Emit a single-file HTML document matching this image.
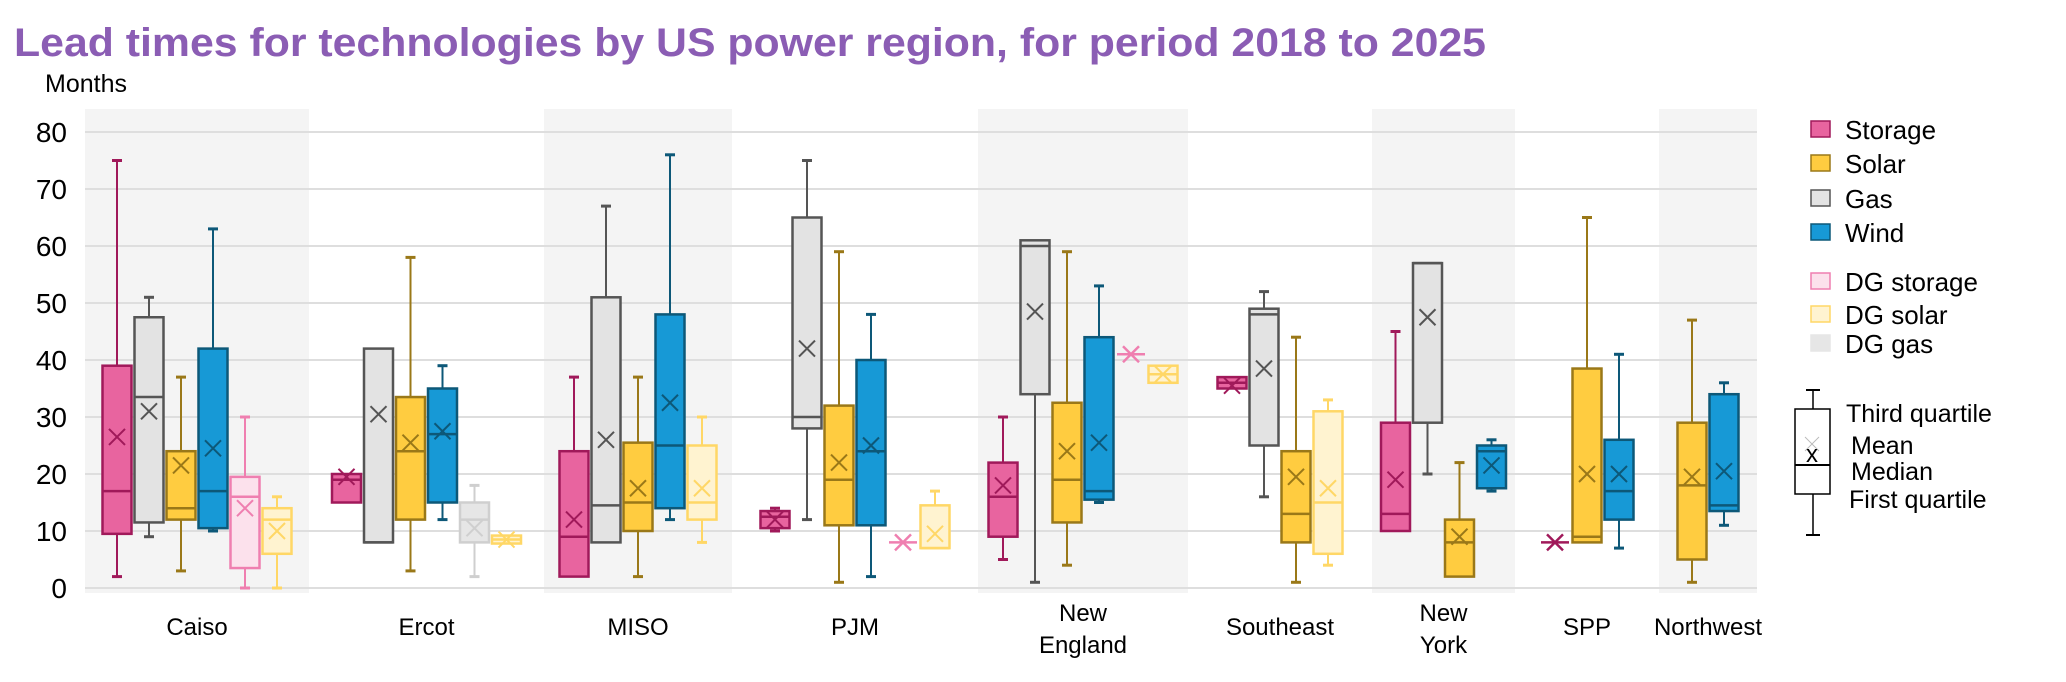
<!DOCTYPE html>
<html><head><meta charset="utf-8">
<style>
body{margin:0;background:#fff;}
svg{display:block;font-family:"Liberation Sans",Arial,sans-serif;}
</style></head>
<body>
<svg id="chart" width="2066" height="682" viewBox="0 0 2066 682" xmlns="http://www.w3.org/2000/svg">
<text x="14" y="56" font-size="40" font-weight="bold" fill="#8b5db4" textLength="1472" lengthAdjust="spacingAndGlyphs">Lead times for technologies by US power region, for period 2018 to 2025</text>
<text x="45" y="92" font-size="25" fill="#000">Months</text>
<g id="bands"></g><g id="grid"></g><g id="ylabels"></g><g id="boxes"></g><g id="xlabels"></g>
<g id="legend"></g>
</svg>
<script>
const regions = ["Caiso","Ercot","MISO","PJM","New England","Southeast","New York","SPP","Northwest"];
const yTicks = [0,10,20,30,40,50,60,70,80];
// each box: [series, min, q1, median, q3, max, mean]
const caisoBoxes = [["storage",2,9.5,17,39,75,26.5],["gas",9,11.5,33.5,47.5,51,31],["solar",3,12,14,24,37,21.5],["wind",10,10.5,17,42,63,24.5],["dgstorage",0,3.5,16,19.5,30,14],["dgsolar",0,6,12,14,16,10]];
const ercotBoxes = [["storage",15,15,19,20,20,19.5],["gas",8,8,8,42,42,30.5],["solar",3,12,24,33.5,58,25.5],["wind",12,15,27,35,39,27.5],["dggas",2,8,12,15,18,10.5],["dgsolar",8,7.8,8.5,9.2,9.2,8.5]];
const misoBoxes = [["storage",2,2,9,24,37,12],["gas",8,8,14.5,51,67,26],["solar",2,10,15,25.5,37,17.5],["wind",12,14,25,48,76,32.5],["dgsolar",8,12,15,25,30,17.5]];
const pjmBoxes = [["storage",10,10.5,12.5,13.5,14,12],["gas",12,28,30,65,75,42],["solar",1,11,19,32,59,22],["wind",2,11,24,40,48,25],["dgstorage",8,8,8,8,8,8],["dgsolar",7,7,7,14.5,17,9.5]];
const neBoxes = [["storage",5,9,16,22,30,18],["gas",1,34,60,61,61,48.5],["solar",4,11.5,19,32.5,59,24],["wind",15,15.5,17,44,53,25.5],["dgstorage",41,41,41,41,41,41],["dgsolar",36,36,37.5,39,39,37.5]];
const seBoxes = [["storage",35,35,36,37,37,35.5],["gas",16,25,48,49,52,38.5],["solar",1,8,13,24,44,19.5],["dgsolar",4,6,15,31,33,17.5]];
const nyBoxes = [["storage",10,10,13,29,45,19],["gas",20,29,57,57,57,47.5],["solar",2,2,8,12,22,9],["wind",17,17.5,24,25,26,21.5]];
const sppBoxes = [["storage",8,8,8,8,8,8],["solar",8,8,9,38.5,65,20],["wind",7,12,17,26,41,20]];
const nwBoxes = [["solar",1,5,18,29,47,19.5],["wind",11,13.5,14.5,34,36,20.5]];
const regionBoxes = [caisoBoxes,ercotBoxes,misoBoxes,pjmBoxes,neBoxes,seBoxes,nyBoxes,sppBoxes,nwBoxes];
const legendLabels = ["Storage","Solar","Gas","Wind","DG storage","DG solar","DG gas"];
const legendKeys = ["storage","solar","gas","wind","dgstorage","dgsolar","dggas"];

// layout
const bandEdges = [85,309,544,732,978,1188,1372,1515,1659,1757];
const styles = {
  storage:{f:"#e8649f",s:"#a0195a"}, solar:{f:"#ffcc40",s:"#9a7818"}, gas:{f:"#e3e3e3",s:"#555555"},
  wind:{f:"#1799d6",s:"#0d5878"}, dgstorage:{f:"#fce1ec",s:"#ef7fb0"}, dgsolar:{f:"#fff3d0",s:"#ffd766"},
  dggas:{f:"#e6e6e6",s:"#cfcfcf"}
};
const NS="http://www.w3.org/2000/svg";
const y = v => 588 - v*5.7;
const STEP=32, BW=29;
function mk(parent,tag,attrs,text){const e=document.createElementNS(NS,tag);for(const k in attrs)e.setAttribute(k,attrs[k]);if(text!==undefined)e.textContent=text;parent.appendChild(e);return e;}
const G=id=>document.getElementById(id);

regions.forEach((r,i)=>{
  if(i%2===0){
    const b=mk(G('bands'),'rect',{x:bandEdges[i],y:109,width:bandEdges[i+1]-bandEdges[i],height:484,fill:"#f4f4f4"});
    
    
  }
});
yTicks.forEach(t=>{
  const l=mk(G('grid'),'line',{x1:85,x2:1757,y1:y(t),y2:y(t),stroke:"#dedede","stroke-width":2});
  
  
  const tx=mk(G('ylabels'),'text',{x:67,y:y(t)+10,"font-size":28,"text-anchor":"end",fill:"#000"},String(t));
  
  
});
function cross(g,cx,cy,r,stroke,w){
  mk(g,'line',{x1:cx-r,y1:cy-r,x2:cx+r,y2:cy+r,stroke:stroke,"stroke-width":w});
  mk(g,'line',{x1:cx-r,y1:cy+r,x2:cx+r,y2:cy-r,stroke:stroke,"stroke-width":w});
}
regionBoxes.forEach((boxes,ri)=>{
  const x0=bandEdges[ri], w=bandEdges[ri+1]-bandEdges[ri];
  const start=x0+(w-boxes.length*STEP)/2+STEP/2;
  boxes.forEach((b,bi)=>{
    const [ser,mn,q1,md,q3,mx,mean]=b;
    const st=styles[ser]; const cx=start+bi*STEP;
    const g=mk(G('boxes'),'g',{});
    
    
    if(q1===q3){
      cross(g,cx,y(mean),8,st.s,2.5);
      mk(g,'line',{x1:cx-14,x2:cx+14,y1:y(mean),y2:y(mean),stroke:st.s,"stroke-width":2.5});
      return;
    }
    if(mx>q3){mk(g,'line',{x1:cx,x2:cx,y1:y(mx),y2:y(q3),stroke:st.s,"stroke-width":2});mk(g,'line',{x1:cx-5,x2:cx+5,y1:y(mx),y2:y(mx),stroke:st.s,"stroke-width":3});}
    if(mn<q1){mk(g,'line',{x1:cx,x2:cx,y1:y(q1),y2:y(mn),stroke:st.s,"stroke-width":2});mk(g,'line',{x1:cx-5,x2:cx+5,y1:y(mn),y2:y(mn),stroke:st.s,"stroke-width":3});}
    mk(g,'rect',{x:cx-BW/2,y:y(q3),width:BW,height:y(q1)-y(q3),fill:st.f,stroke:st.s,"stroke-width":2.5});
    mk(g,'line',{x1:cx-BW/2,x2:cx+BW/2,y1:y(md),y2:y(md),stroke:st.s,"stroke-width":2.5});
    cross(g,cx,y(mean),8,(ser==="gas")?"#555":st.s,2);
  });
});
regions.forEach((r,i)=>{
  const cx=(bandEdges[i]+bandEdges[i+1])/2;
  const parts=r.split(' ');
  const lines = parts.length>1 ? parts : [r];
  const y0 = lines.length>1 ? 621 : 635;
  lines.forEach((ln,li)=>{
    const t=mk(G('xlabels'),'text',{x:cx,y:y0+li*32,"font-size":24,"text-anchor":"middle",fill:"#000"},ln);
    
    
  });
});
const legY=[129,163,198,232,281,314,343];
legendLabels.forEach((lab,i)=>{
  const st=styles[legendKeys[i]];
  const g=mk(G('legend'),'g',{});
  
  
  mk(g,'rect',{x:1811,y:legY[i]-8,width:19,height:16,fill:st.f,stroke:legendKeys[i]==="dggas"?st.f:st.s,"stroke-width":1.5});
  mk(g,'text',{x:1845,y:legY[i]+10,"font-size":26,fill:"#000"},lab);
});
const k=mk(G('legend'),'g',{});


mk(k,'line',{x1:1813,x2:1813,y1:390,y2:535,stroke:"#000","stroke-width":1.5});
mk(k,'line',{x1:1806,x2:1820,y1:390,y2:390,stroke:"#000","stroke-width":2});
mk(k,'line',{x1:1806,x2:1820,y1:535,y2:535,stroke:"#000","stroke-width":2});
mk(k,'rect',{x:1795,y:409,width:35,height:85,fill:"#fff",stroke:"#000","stroke-width":1.5});
mk(k,'line',{x1:1795,x2:1830,y1:465,y2:465,stroke:"#000","stroke-width":2});
cross(k,1812,444,7,"#bbb",1);
mk(k,'text',{x:1812,y:462,"font-size":24,"text-anchor":"middle",fill:"#000"},"x");
mk(k,'text',{x:1846,y:422,"font-size":25,fill:"#000"},"Third quartile");
mk(k,'text',{x:1851,y:454,"font-size":25,fill:"#000"},"Mean");
mk(k,'text',{x:1851,y:480,"font-size":25,fill:"#000"},"Median");
mk(k,'text',{x:1849,y:508,"font-size":25,fill:"#000"},"First quartile");
</script>
</body></html>
